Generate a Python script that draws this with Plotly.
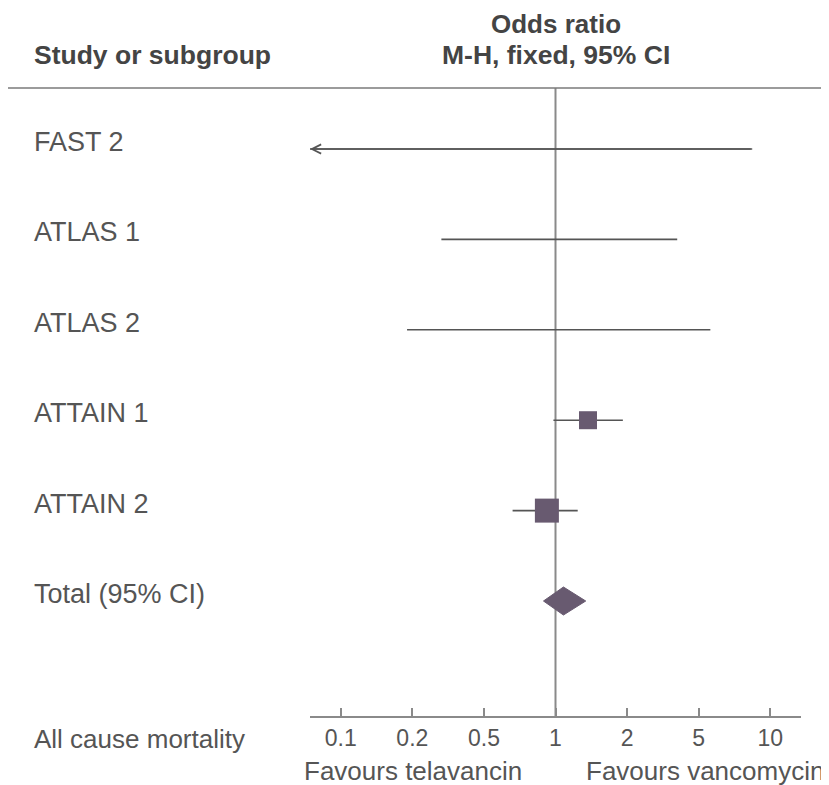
import numpy as np
import plotly.graph_objects as go

# ---------------- data ----------------
tick_values = [0.1, 0.2, 0.5, 1, 2, 5, 10]
tick_labels = ["0.1", "0.2", "0.5", "1", "2", "5", "10"]

studies = ["FAST 2", "ATLAS 1", "ATLAS 2", "ATTAIN 1", "ATTAIN 2"]
odds_ratio = [None, None, None, 1.37, 0.92]
ci_low = [0.03, 0.29, 0.19, 0.98, 0.66]
ci_high = [8.4, 3.8, 5.6, 1.92, 1.24]
weights = [0.0, 0.0, 0.0, 36.0, 64.0]

total_label = "Total (95% CI)"
total_or = 1.08
total_low = 0.89
total_high = 1.34

# ---------------- helpers ----------------
tick_pos = list(range(len(tick_values)))
log_ticks = np.log10(tick_values)


def pos(v):
    lv = np.log10(v)
    if lv < log_ticks[0]:
        return tick_pos[0] + (lv - log_ticks[0]) / (log_ticks[1] - log_ticks[0])
    if lv > log_ticks[-1]:
        return tick_pos[-1] + (lv - log_ticks[-1]) / (log_ticks[-1] - log_ticks[-2])
    return float(np.interp(lv, log_ticks, tick_pos))


x_min, x_max = -0.43, 6.43
row_y = list(range(len(studies) + 1))

TEXT = "#555555"
HEAD = "#444444"
LINE = "#555555"
AXIS = "#8a8a8a"
MARK = "#685a70"
FONT = "Liberation Sans, Arial, Helvetica, sans-serif"

fig = go.Figure()
annotations = []

# confidence interval lines
for i, name in enumerate(studies):
    lo = pos(ci_low[i])
    hi = pos(ci_high[i])
    clipped = lo < x_min
    lo_c = max(lo, x_min)
    fig.add_trace(go.Scatter(x=[lo_c, hi], y=[row_y[i], row_y[i]], mode="lines",
                             line=dict(color=LINE, width=1.6), hoverinfo="skip",
                             showlegend=False))
    if clipped:
        annotations.append(dict(x=x_min, y=row_y[i], ax=hi, ay=row_y[i],
                                xref="x", yref="y", axref="x", ayref="y",
                                showarrow=True, arrowhead=5, arrowsize=1.2,
                                arrowwidth=1.5, arrowcolor=LINE, standoff=0,
                                text=""))

# squares for point estimates
sq_x, sq_y, sq_s = [], [], []
for i in range(len(studies)):
    if odds_ratio[i] is not None:
        sq_x.append(pos(odds_ratio[i]))
        sq_y.append(row_y[i])
        sq_s.append(3.0 * np.sqrt(weights[i]))
fig.add_trace(go.Scatter(x=sq_x, y=sq_y, mode="markers",
                         marker=dict(symbol="square", size=sq_s, color=MARK,
                                     opacity=1, line=dict(width=0)),
                         hoverinfo="skip", showlegend=False))

# total diamond
ty = row_y[-1]
h = 0.155
fig.add_trace(go.Scatter(
    x=[pos(total_low), pos(total_or), pos(total_high), pos(total_or), pos(total_low)],
    y=[ty, ty - h, ty, ty + h, ty],
    mode="lines", fill="toself", fillcolor=MARK, line=dict(color=MARK, width=1),
    hoverinfo="skip", showlegend=False))

# line of no effect and header rule
shapes = [
    dict(type="line", xref="x", yref="paper", x0=pos(1), x1=pos(1), y0=0, y1=1,
         line=dict(color=AXIS, width=2), layer="below"),
    dict(type="line", xref="paper", yref="paper", x0=-0.621, x1=1.08, y0=1, y1=1,
         line=dict(color="#7a7a7a", width=1.5)),
]

# row labels
for i, name in enumerate(studies + [total_label]):
    annotations.append(dict(x=-0.566, y=row_y[i], xref="paper", yref="y",
                            text=name, showarrow=False, xanchor="left",
                            yanchor="middle", yshift=7,
                            font=dict(size=27, color=TEXT, family=FONT)))

# headers and footers
annotations += [
    dict(x=-0.566, y=1.0525, xref="paper", yref="paper", text="<b>Study or subgroup</b>",
         showarrow=False, xanchor="left", yanchor="middle",
         font=dict(size=26.5, color=HEAD, family=FONT)),
    dict(x=pos(1), y=1.102, xref="x", yref="paper", text="<b>Odds ratio</b>",
         showarrow=False, xanchor="center", yanchor="middle",
         font=dict(size=26, color=HEAD, family=FONT)),
    dict(x=pos(1), y=1.0525, xref="x", yref="paper", text="<b>M-H, fixed, 95% CI</b>",
         showarrow=False, xanchor="center", yanchor="middle",
         font=dict(size=26.5, color=HEAD, family=FONT)),
    dict(x=-0.566, y=-0.037, xref="paper", yref="paper", text="All cause mortality",
         showarrow=False, xanchor="left", yanchor="middle",
         font=dict(size=26, color=TEXT, family=FONT)),
    dict(x=0.209, y=-0.087, xref="paper", yref="paper", text="Favours telavancin",
         showarrow=False, xanchor="center", yanchor="middle",
         font=dict(size=26, color=TEXT, family=FONT)),
    dict(x=1.05, y=-0.087, xref="paper", yref="paper", text="Favours vancomycin",
         showarrow=False, xanchor="right", yanchor="middle",
         font=dict(size=26, color=TEXT, family=FONT)),
]

fig.update_layout(
    width=829, height=785,
    margin=dict(l=302, r=36, t=80, b=77),
    paper_bgcolor="white", plot_bgcolor="white",
    shapes=shapes, annotations=annotations,
    xaxis=dict(range=[x_min, x_max], tickvals=tick_pos, ticktext=tick_labels,
               ticks="inside", ticklen=8, tickwidth=1.5, tickcolor=AXIS,
               showline=True, linecolor=AXIS, linewidth=2, showgrid=False,
               zeroline=False, fixedrange=True,
               tickfont=dict(size=23, color=TEXT, family=FONT)),
    yaxis=dict(range=[6.272, -0.675], visible=False, showgrid=False,
               zeroline=False, fixedrange=True),
)

fig.write_html("out.html")
